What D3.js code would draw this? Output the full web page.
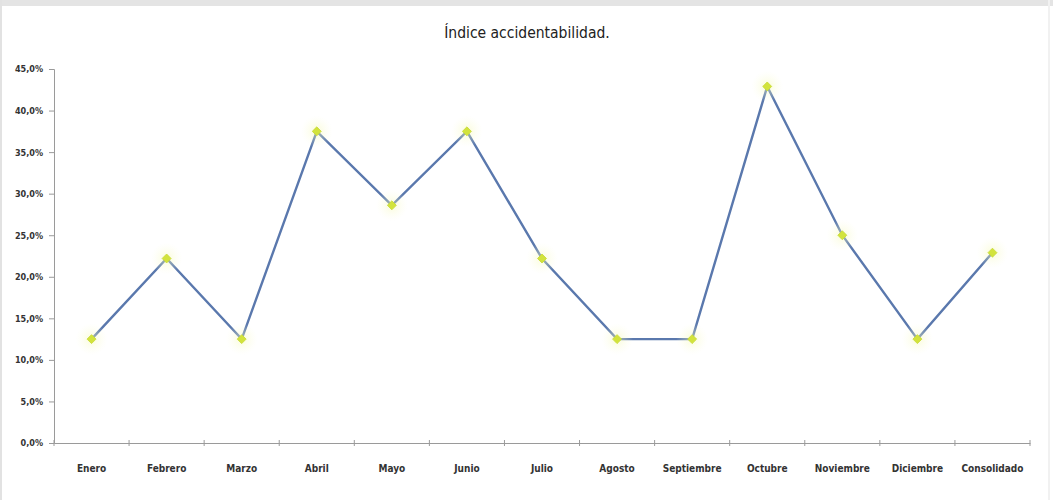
<!DOCTYPE html>
<html>
<head>
<meta charset="utf-8">
<script src="https://cdn.jsdelivr.net/npm/d3@7"></script>
<style>
  html, body { margin: 0; padding: 0; background: #fff; }
  svg { display: block; }
</style>
</head>
<body>
<svg id="chart" width="1053" height="500"></svg>
<script>
// Monthly accident index (%) plus the consolidated value
const categories = ["Enero", "Febrero", "Marzo", "Abril", "Mayo", "Junio", "Julio",
  "Agosto", "Septiembre", "Octubre", "Noviembre", "Diciembre", "Consolidado"];
const values = [12.5, 22.2, 12.5, 37.5, 28.6, 37.5, 22.2, 12.5, 12.5, 42.9, 25.0, 12.5, 22.9];
const yTicks = [0, 5, 10, 15, 20, 25, 30, 35, 40, 45];
const titleText = "Índice accidentabilidad.";

const W = 1053, H = 500;
const margin = { left: 54, right: 23, top: 69, bottom: 57 };
const svg = d3.select("#chart");

// outer frame
svg.append("rect").attr("x", 0).attr("y", 0).attr("width", W).attr("height", 6).attr("fill", "#e4e4e4");
svg.append("rect").attr("x", 0).attr("y", 0).attr("width", 2).attr("height", H).attr("fill", "#e2e2e2");
svg.append("rect").attr("x", W - 5).attr("y", 0).attr("width", 2).attr("height", H).attr("fill", "#f1f1f1");

const x = d3.scaleBand().domain(categories).range([margin.left, W - margin.right]);
const y = d3.scaleLinear().domain([0, 45]).range([H - margin.bottom, margin.top]);

const fontFam = "'DejaVu Sans Condensed', 'DejaVu Sans', sans-serif";

// title
svg.append("text")
  .attr("x", 527).attr("y", 38)
  .attr("text-anchor", "middle")
  .attr("font-family", fontFam)
  .attr("font-size", 15.5)
  .attr("fill", "#222")
  .text(titleText);

// y axis
const yAxis = svg.append("g")
  .attr("transform", `translate(${margin.left},0)`)
  .call(d3.axisLeft(y).tickValues(yTicks).tickSize(5).tickPadding(6)
    .tickFormat(d => d3.format(".1f")(d).replace(".", ",") + "%"));
yAxis.select(".domain").attr("stroke", "#9a9a9a");
yAxis.selectAll(".tick line").attr("stroke", "#9a9a9a");
yAxis.selectAll(".tick text")
  .attr("font-family", fontFam).attr("font-size", 9).attr("font-weight", "bold").attr("fill", "#333");

// x axis
const xAxis = svg.append("g")
  .attr("transform", `translate(0,${H - margin.bottom})`)
  .call(d3.axisBottom(x).tickSize(0).tickPadding(22));
xAxis.select(".domain").attr("stroke", "#9a9a9a");
xAxis.selectAll(".tick text")
  .attr("font-family", fontFam).attr("font-size", 10).attr("font-weight", "bold").attr("fill", "#333");

// category dividers on the x axis
const bounds = categories.map(c => x(c)).concat([x(categories[categories.length - 1]) + x.bandwidth()]);
svg.append("g").selectAll("line").data(bounds).join("line")
  .attr("x1", d => d).attr("x2", d => d)
  .attr("y1", H - margin.bottom - 3).attr("y2", H - margin.bottom + 3)
  .attr("stroke", "#9a9a9a");

const cx = c => x(c) + x.bandwidth() / 2;

// line series
const line = d3.line().x((d, i) => cx(categories[i])).y(d => y(d));
svg.append("path")
  .datum(values)
  .attr("fill", "none")
  .attr("stroke", "#5a78ad")
  .attr("stroke-width", 2.4)
  .attr("stroke-linejoin", "miter")
  .attr("d", line);

// markers with a soft yellow glow
const defs = svg.append("defs");
const grad = defs.append("radialGradient").attr("id", "glow");
grad.append("stop").attr("offset", "0%").attr("stop-color", "#f4f8b0").attr("stop-opacity", 0.5);
grad.append("stop").attr("offset", "100%").attr("stop-color", "#fbfde0").attr("stop-opacity", 0);

const pts = svg.append("g").selectAll("g").data(values).join("g")
  .attr("transform", (d, i) => `translate(${cx(categories[i])},${y(d)})`);
pts.append("circle").attr("r", 16).attr("fill", "url(#glow)");
pts.append("path")
  .attr("d", d3.symbol().type(d3.symbolSquare).size(40))
  .attr("transform", "rotate(45)")
  .attr("fill", "#d2e33c")
  .attr("stroke", "#c8da34")
  .attr("stroke-width", 0.8);
</script>
</body>
</html>
